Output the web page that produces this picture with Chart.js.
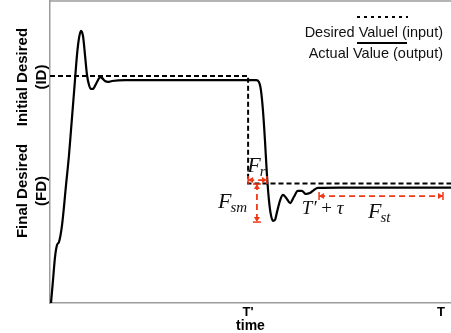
<!DOCTYPE html>
<html>
<head>
<meta charset="utf-8">
<script src="https://cdn.jsdelivr.net/npm/chart.js@4.4.1/dist/chart.umd.min.js"></script>
<style>
  html, body { margin: 0; padding: 0; background: #fff; }
  #wrap { width: 451px; height: 333px; }
</style>
</head>
<body>
<div id="wrap"><canvas id="chart" width="451" height="333"></canvas></div>
<script>
const tPrime = 49.4;
const tEnd = 97.5;

// actual value (output)
const actualTime = [0.25, 0.75, 1.25, 1.75, 2.24, 3.0, 4.0, 4.74, 5.24, 5.74, 6.23, 6.73, 7.23, 7.73, 8.23, 8.73, 9.23, 9.73,
    10.22, 10.72, 11.22, 11.97, 12.47, 12.97, 13.72, 14.46, 15.46, 18.7, 51.4, 52.1, 52.6, 53.1, 53.6, 54.1, 54.6, 55.1,
    55.6, 56.1, 56.6, 57.4, 58.1, 58.9, 59.9, 60.8, 61.8, 62.8, 63.8, 64.8, 65.8, 66.8, 72.3, 100];
const actualValue = [0, 7.6, 15.2, 19.2, 20.2, 25.8, 39.1, 49.0, 57.3, 65.6, 73.8, 82.1, 87.7, 90.1, 88.4, 82.1, 75.5, 72.2,
    70.9, 70.9, 71.9, 73.8, 74.8, 74.5, 73.5, 73.2, 73.5, 73.8, 73.8, 73.2, 70.5, 63.9, 54.0, 42.4, 34.1, 29.1,
    27.2, 27.5, 30.1, 34.1, 35.8, 34.8, 33.1, 35.1, 37.1, 37.1, 36.1, 36.4, 37.4, 38.1, 38.2, 38.2];

// desired value (input)
const desiredTime = [0, tPrime, tPrime, 100];
const desiredValue = [75.2, 75.2, 39.6, 39.6];

const xTickValues = [tPrime, tEnd];
const xTickLabels = ["T'", 'T'];
const yTickValues = [74.8, 37.1];
const yTickLabels = [['Initial Desired', '(ID)'], ['Final Desired', '(FD)']];

const legendLabels = ['Desired Valuel (input)', 'Actual Value (output)'];

// red dimension arrows [x1, y1, x2, y2]
const arrowFr = [49.4, 40.7, 54.1, 40.7];
const arrowFsm = [51.6, 39.4, 51.6, 26.8];
const arrowFst = [67.1, 35.4, 98.0, 35.4];

// math labels, anchored at left/baseline
const mathLabels = [
    { at: [49.2, 43.4], main: 'F', sub: 'r' },
    { at: [41.9, 31.5], main: 'F', sub: 'sm' },
    { at: [79.3, 28.1], main: 'F', sub: 'st' },
];
const tauLabelAt = [62.8, 29.5];

const AXIS_GRAY = '#9b9b9b';
const RED = '#f03a17';
const SANS = '"Liberation Sans", Arial, Helvetica, sans-serif';
const SERIF = '"Liberation Serif", "Times New Roman", serif';

function toXY(xs, ys) {
    return xs.map((x, i) => ({ x: x, y: ys[i] }));
}

function drawArrow(ctx, x1, y1, x2, y2) {
    ctx.save();
    ctx.strokeStyle = RED;
    ctx.fillStyle = RED;
    ctx.lineWidth = 1.8;
    ctx.setLineDash([6, 4]);
    ctx.beginPath();
    ctx.moveTo(x1, y1);
    ctx.lineTo(x2, y2);
    ctx.stroke();
    ctx.setLineDash([]);
    const ang = Math.atan2(y2 - y1, x2 - x1);
    [[x1, y1, ang + Math.PI], [x2, y2, ang]].forEach(([x, y, a]) => {
        ctx.save();
        ctx.translate(x, y);
        ctx.rotate(a);
        ctx.beginPath();
        ctx.moveTo(0, 0);
        ctx.lineTo(-5, -3);
        ctx.lineTo(-5, 3);
        ctx.closePath();
        ctx.fill();
        ctx.lineWidth = 1.5;
        ctx.beginPath();
        ctx.moveTo(0, -4);
        ctx.lineTo(0, 4);
        ctx.stroke();
        ctx.restore();
    });
    ctx.restore();
}

const annotationPlugin = {
    id: 'annotations',
    afterDatasetsDraw(chart) {
        const ctx = chart.ctx;
        const xs = chart.scales.x, ys = chart.scales.y;
        const px = v => xs.getPixelForValue(v);
        const py = v => ys.getPixelForValue(v);

        [arrowFr, arrowFsm, arrowFst].forEach(a => drawArrow(ctx, px(a[0]), py(a[1]), px(a[2]), py(a[3])));

        ctx.save();
        ctx.fillStyle = '#111';
        ctx.textAlign = 'left';
        ctx.textBaseline = 'alphabetic';
        mathLabels.forEach(l => {
            let x = px(l.at[0]);
            const y = py(l.at[1]);
            ctx.font = 'italic 22px ' + SERIF;
            ctx.fillText(l.main, x, y);
            x += ctx.measureText(l.main).width;
            ctx.font = 'italic 15px ' + SERIF;
            ctx.fillText(l.sub, x - 1, y + 4);
        });
        // T' + tau
        let x = px(tauLabelAt[0]);
        const y = py(tauLabelAt[1]);
        ctx.font = 'italic 19px ' + SERIF;
        ctx.fillText('T\u2032', x, y);
        x += ctx.measureText('T\u2032').width;
        ctx.font = '19px ' + SERIF;
        ctx.fillText(' + ', x, y);
        x += ctx.measureText(' + ').width;
        ctx.font = 'italic 19px ' + SERIF;
        ctx.fillText('\u03c4', x, y);
        ctx.restore();
    },
    afterDraw(chart) {
        const ctx = chart.ctx;
        const area = chart.chartArea;
        const ys = chart.scales.y;

        // top frame line
        ctx.save();
        ctx.strokeStyle = AXIS_GRAY;
        ctx.lineWidth = 1.5;
        ctx.beginPath();
        ctx.moveTo(area.left, area.top);
        ctx.lineTo(area.right, area.top);
        ctx.stroke();

        // rotated y tick labels
        ctx.fillStyle = '#000';
        ctx.font = 'bold 15px ' + SANS;
        ctx.textAlign = 'center';
        ctx.textBaseline = 'middle';
        yTickValues.forEach((v, i) => {
            const yp = ys.getPixelForValue(v);
            yTickLabels[i].forEach((line, j) => {
                ctx.save();
                ctx.translate(area.left - 27 + j * 19, yp);
                ctx.rotate(-Math.PI / 2);
                ctx.fillText(line, 0, 0);
                ctx.restore();
            });
        });

        // legend
        ctx.font = '14.5px ' + SANS;
        ctx.textAlign = 'right';
        ctx.textBaseline = 'alphabetic';
        ctx.fillStyle = '#111';
        ctx.fillText(legendLabels[0], 443, 37);
        ctx.fillText(legendLabels[1], 443, 58);
        ctx.strokeStyle = '#000';
        ctx.lineWidth = 2;
        ctx.setLineDash([3, 4]);
        ctx.beginPath();
        ctx.moveTo(357, 17);
        ctx.lineTo(408, 17);
        ctx.stroke();
        ctx.setLineDash([]);
        ctx.beginPath();
        ctx.moveTo(357, 43);
        ctx.lineTo(407, 43);
        ctx.stroke();
        ctx.restore();
    }
};

new Chart(document.getElementById('chart'), {
    type: 'scatter',
    data: {
        datasets: [
            {
                label: legendLabels[0],
                data: toXY(desiredTime, desiredValue),
                showLine: true,
                borderColor: '#000',
                borderWidth: 2,
                borderDash: [5, 3],
                pointRadius: 0,
                tension: 0
            },
            {
                label: legendLabels[1],
                data: toXY(actualTime, actualValue),
                showLine: true,
                borderColor: '#000',
                borderWidth: 2.2,
                pointRadius: 0,
                cubicInterpolationMode: 'monotone'
            }
        ]
    },
    options: {
        responsive: false,
        animation: false,
        layout: { padding: { top: 1, right: 0, left: 0, bottom: 0 } },
        plugins: { legend: { display: false }, tooltip: { enabled: false } },
        scales: {
            x: {
                type: 'linear',
                min: 0,
                max: 100,
                grid: { display: false, drawTicks: false, tickLength: 0 },
                border: { color: AXIS_GRAY, width: 1.5 },
                afterBuildTicks: s => { s.ticks = xTickValues.map(v => ({ value: v })); },
                ticks: {
                    callback: (v, i) => xTickLabels[i],
                    font: { family: SANS, size: 13, weight: 'bold', lineHeight: 1 },
                    color: '#000',
                    padding: 3,
                    maxRotation: 0,
                    autoSkip: false
                },
                title: {
                    display: true,
                    text: 'time',
                    font: { family: SANS, size: 14, weight: 'bold', lineHeight: 1 },
                    color: '#000',
                    padding: { top: 0, bottom: 0 }
                },
                afterFit: s => { s.height = 30; }
            },
            y: {
                type: 'linear',
                min: 0,
                max: 100,
                grid: { display: false, drawTicks: false, tickLength: 0 },
                border: { color: AXIS_GRAY, width: 1.5 },
                ticks: { display: false },
                afterFit: s => { s.width = 50; }
            }
        }
    },
    plugins: [annotationPlugin]
});
</script>
</body>
</html>
